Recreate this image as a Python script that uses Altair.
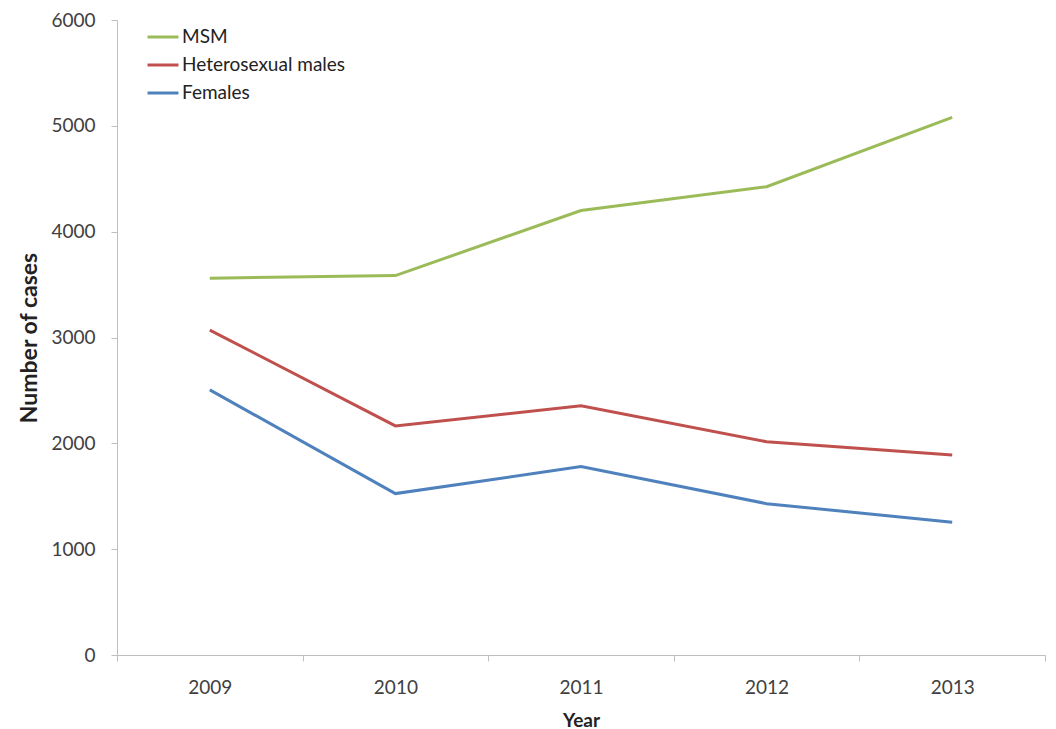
import altair as alt
import pandas as pd

years = ["2009", "2010", "2011", "2012", "2013"]
series_names = ["MSM", "Heterosexual males", "Females"]
msm = [3560, 3585, 4200, 4425, 5080]
hetero = [3070, 2165, 2355, 2015, 1890]
females = [2505, 1525, 1780, 1430, 1255]
colors = ["#9bbb59", "#c0504d", "#4f81bd"]

rows = []
for name, vals in zip(series_names, [msm, hetero, females]):
    for y, v in zip(years, vals):
        rows.append({"Year": y, "Cases": v, "Group": name})
df = pd.DataFrame(rows)

FONT = "Lato"

chart = alt.Chart(df).mark_line(strokeWidth=3).encode(
    x=alt.X("Year:O", sort=years,
            scale=alt.Scale(paddingInner=0, paddingOuter=0),
            axis=alt.Axis(title="Year", labelAngle=0, tickBand="extent",
                          labelFontSize=19, labelColor="#404040", labelPadding=17,
                          tickSize=6, tickColor="#bfbfbf", domainColor="#bfbfbf",
                          titleFontSize=19, titleFontWeight="bold", titleColor="#222222",
                          titlePadding=14, labelFont=FONT, titleFont=FONT)),
    y=alt.Y("Cases:Q", scale=alt.Scale(domain=[0, 6000]),
            axis=alt.Axis(title="Number of cases", values=[0, 1000, 2000, 3000, 4000, 5000, 6000],
                          format="d",
                          grid=False, labelFontSize=19, labelColor="#404040", labelPadding=16,
                          tickSize=6, tickColor="#bfbfbf", domainColor="#bfbfbf",
                          titleFontSize=23, titleFontWeight="bold", titleColor="#222222",
                          titlePadding=9, labelFont=FONT, titleFont=FONT)),
    color=alt.Color("Group:N", sort=series_names,
                    scale=alt.Scale(domain=series_names, range=colors),
                    legend=alt.Legend(title=None, orient="none", legendX=29, legendY=0,
                                      symbolType="stroke", symbolStrokeWidth=3,
                                      symbolSize=960, labelFontSize=19, labelFont=FONT,
                                      labelLimit=400,
                                      labelColor="#222222", labelOffset=2, rowPadding=1)),
).properties(
    width=928, height=635,
    padding={"left": 109, "top": 12, "right": 3, "bottom": 74},
    autosize=alt.AutoSizeParams(type="none"),
).configure_view(stroke=None)

chart.save("out.html", embed_options={"renderer": "svg", "actions": False})
